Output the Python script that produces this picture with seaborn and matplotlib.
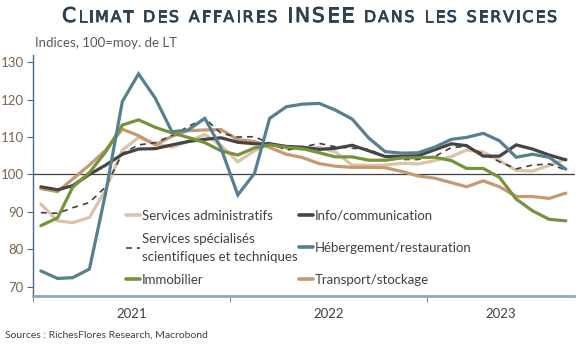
import numpy as np
import pandas as pd
import matplotlib
matplotlib.use("Agg")
import matplotlib.pyplot as plt
import matplotlib.dates as mdates
import matplotlib.patheffects as pe
from matplotlib.lines import Line2D
from matplotlib.transforms import IdentityTransform
import seaborn as sns

# ---------------- data ----------------
months = pd.date_range("2021-01-01", periods=33, freq="MS") + pd.Timedelta(days=14)

admin = [92.1, 87.6, 87.1, 88.5, 95.9, 106.5, 109.9, 108.2, 107.3, 108.8, 110.7, 107.7,
         103.4, 106.3, 108.3, 107.1, 106.7, 107.2, 106.0, 102.5, 102.4, 102.5, 103.0, 102.8,
         103.7, 104.8, 106.5, 106.0, 103.7, 101.1, 100.9, 102.4, 104.1]
specialises = [89.8, 89.6, 91.1, 92.5, 96.7, 105.6, 107.9, 108.5, 110.4, 112.8, 115.0, 111.0,
               110.0, 110.1, 108.3, 106.5, 107.3, 108.3, 107.4, 107.0, 106.7, 104.8, 104.0, 104.0,
               104.8, 107.2, 107.5, 105.5, 103.4, 101.5, 102.5, 102.8, 101.2]
immobilier = [86.3, 88.4, 96.6, 100.5, 106.0, 113.2, 114.6, 112.6, 111.1, 109.9, 108.5, 106.3,
              105.2, 107.1, 107.9, 107.3, 106.9, 105.8, 104.7, 104.7, 103.8, 103.8, 104.4, 104.5,
              104.6, 103.7, 101.6, 101.6, 99.2, 93.4, 90.3, 88.0, 87.6]
info_comm = [96.7, 95.9, 97.0, 100.0, 102.5, 105.4, 106.8, 106.9, 107.9, 108.8, 109.4, 109.8,
             108.6, 108.2, 108.2, 107.5, 107.3, 106.7, 107.0, 107.8, 106.3, 104.8, 104.9, 105.0,
             106.6, 108.2, 107.7, 104.9, 104.9, 107.9, 106.8, 105.2, 103.9]
hebergement = [74.2, 72.2, 72.4, 74.7, 95.0, 119.5, 126.9, 120.4, 111.4, 111.9, 115.0, 107.0,
               94.5, 100.3, 115.0, 118.1, 118.8, 119.0, 117.2, 114.8, 109.7, 106.1, 105.7, 105.8,
               107.3, 109.4, 109.9, 111.0, 109.0, 104.6, 105.4, 104.6, 101.4]
transport = [96.2, 95.4, 98.8, 102.5, 106.5, 112.1, 110.4, 107.9, 110.2, 111.7, 111.9, 112.0,
             109.3, 108.8, 107.2, 105.4, 104.5, 102.9, 102.2, 101.9, 101.9, 101.8, 100.8, 99.6,
             99.0, 97.8, 96.7, 98.3, 96.7, 94.1, 94.1, 93.6, 95.0]

labels = {
    "admin": "Services administratifs",
    "spec": "Services spécialisés\nscientifiques et techniques",
    "immo": "Immobilier",
    "info": "Info/communication",
    "heb": "Hébergement/restauration",
    "trans": "Transport/stockage",
}
series = {"admin": admin, "spec": specialises, "immo": immobilier,
          "info": info_comm, "heb": hebergement, "trans": transport}
year_labels = ["2021", "2022", "2023"]
y_ticks = [70, 80, 90, 100, 110, 120, 130]

colors = {"admin": "#dcc2a8", "spec": "#404040", "immo": "#76933c",
          "info": "#454545", "heb": "#56808f", "trans": "#c59a72"}
widths = {"admin": 2.3, "spec": 1.2, "immo": 2.3, "info": 2.3, "heb": 2.3, "trans": 2.3}
order = ["admin", "trans", "spec", "info", "immo", "heb"]

# ---------------- figure ----------------
sns.set_theme(style="white")
plt.rcParams["font.family"] = ["Lato", "DejaVu Sans"]

W, H = 586, 344
fig = plt.figure(figsize=(W / 100, H / 100), dpi=100)
ax_left, ax_right, ax_bottom_px = 33.3, 574.5, 296
ymin, ymax = 67.5, 132
px_per_unit = 3.74
ax_height_px = (ymax - ymin) * px_per_unit
ax = fig.add_axes([ax_left / W, (H - ax_bottom_px) / H,
                   (ax_right - ax_left) / W, ax_height_px / H])

for key in order:
    df = pd.DataFrame({"date": months, "value": series[key]})
    if key == "spec":
        sns.lineplot(data=df, x="date", y="value", ax=ax, color=colors[key],
                     linewidth=widths[key], linestyle=(0, (3.5, 3)), zorder=3)
    else:
        sns.lineplot(data=df, x="date", y="value", ax=ax, color=colors[key],
                     linewidth=widths[key], zorder=3, solid_joinstyle="miter")

ax.axhline(100, color="#404040", lw=0.9, zorder=2)

ax.set_ylim(ymin, ymax)
x0 = mdates.date2num(pd.Timestamp("2021-01-01"))
x1 = mdates.date2num(pd.Timestamp("2023-10-01"))
ax.set_xlim(x0, x1)
ax.set_xlabel("")
ax.set_ylabel("")

# y axis
ax.set_yticks(y_ticks)
ax.set_yticklabels([str(v) for v in y_ticks])
ax.tick_params(axis="y", which="major", direction="out", length=4, width=0.8,
               color="#4a6a88", labelsize=9.5, labelcolor="#7d6650", pad=3, left=True)

# x axis: boundaries as major ticks, labels centred on minor ticks
bounds = [pd.Timestamp("2021-01-01"), pd.Timestamp("2022-01-01"), pd.Timestamp("2023-01-01")]
ax.set_xticks([mdates.date2num(b) for b in bounds])
ax.set_xticklabels([])
edges = [mdates.date2num(b) for b in bounds] + [x1]
centers = [(a + b) / 2 for a, b in zip(edges[:-1], edges[1:])]
ax.set_xticks(centers, minor=True)
ax.set_xticklabels(year_labels, minor=True)
ax.tick_params(axis="x", which="major", direction="out", length=4, width=0.8,
               color="#8a8a8a", bottom=True)
ax.tick_params(axis="x", which="minor", length=0, labelsize=9.5,
               labelcolor="#404040", pad=9)

for s in ["top", "right"]:
    ax.spines[s].set_visible(False)
ax.spines["left"].set_color("#4a6a88")
ax.spines["left"].set_linewidth(1.0)
ax.spines["bottom"].set_color("#93a5bd")
ax.spines["bottom"].set_linewidth(2.0)
ax.grid(False)

# legends (two columns)
def handle(key):
    ls = (0, (3.5, 3)) if key == "spec" else "-"
    return Line2D([0], [0], color=colors[key], lw=2.6 if key != "spec" else 1.2, linestyle=ls)

col1 = ["admin", "spec", "immo"]
col2 = ["info", "heb", "trans"]
leg_kw = dict(frameon=False, fontsize=9.5, handlelength=1.05, handletextpad=0.15,
              borderaxespad=0, borderpad=0, labelcolor="#404040")
leg1 = ax.legend([handle(k) for k in col1], [labels[k] for k in col1],
                 loc="upper left", bbox_to_anchor=(126 / W, (H - 210) / H),
                 bbox_transform=fig.transFigure, labelspacing=0.8, **leg_kw)
for t in leg1.get_texts():
    t.set_linespacing(1.65)
ax.add_artist(leg1)
leg2 = ax.legend([handle(k) for k in col2], [labels[k] for k in col2],
                 loc="upper left", bbox_to_anchor=(299 / W, (H - 210) / H),
                 bbox_transform=fig.transFigure, labelspacing=1.5, **leg_kw)

# subtitle & source
fig.text(35 / W, (H - 47) / H, "Indices, 100=moy. de LT", fontsize=9.5,
         color="#595959", ha="left", va="baseline")
fig.text(5 / W, (H - 338) / H, "Sources : RichesFlores Research, Macrobond", fontsize=7.5,
         color="#404040", ha="left", va="baseline")

# title in small caps with letter tracking
title_pieces = [("C", 1), ("LIMAT", 0), (" ", None), ("DES", 0), (" ", None),
                ("AFFAIRES", 0), (" ", None), ("INSEE", 1), (" ", None),
                ("DANS", 0), (" ", None), ("LES", 0), (" ", None), ("SERVICES", 0)]
title_color = "#2c4253"
title_font = dict(family="DejaVu Sans", weight="normal")
renderer = fig.canvas.get_renderer()
big, small = 14.6, 11.4
space_px = 8.0

def char_width(ch, size):
    t = fig.text(0, 0, ch, fontsize=size, transform=IdentityTransform(), **title_font)
    w = t.get_window_extent(renderer).width
    t.remove()
    return w

chars = []
for txt, kind in title_pieces:
    if kind is None:
        chars.append((" ", None, space_px))
    else:
        size = big if kind == 1 else small
        for ch in txt:
            chars.append((ch, size, char_width(ch, size)))
natural = sum(c[2] for c in chars)
n_letters = sum(1 for c in chars if c[1] is not None)
track = (495 - natural) / max(n_letters - 1, 1)
x = 62.0
for ch, size, w in chars:
    if size is None:
        x += w
        continue
    t = fig.text(x, H - 22, ch, fontsize=size, color=title_color, ha="left",
                 va="baseline", transform=IdentityTransform(), **title_font)
    t.set_path_effects([pe.withStroke(linewidth=0.6, foreground=title_color)])
    x += w + track

fig.savefig("out.png", dpi=100)
